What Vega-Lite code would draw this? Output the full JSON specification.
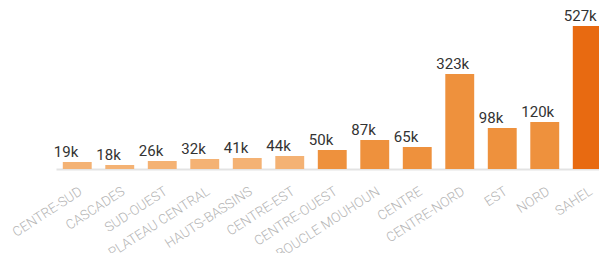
{
  "$schema": "https://vega.github.io/schema/vega-lite/v6.json",
  "autosize": "none",
  "width": 543,
  "height": 143,
  "padding": {"left": 56, "top": 26, "right": 0, "bottom": 84},
  "background": "white",
  "config": {"view": {"stroke": null}},
  "data": {
    "values": [
      {"region": "CENTRE-SUD", "bar": 25.8, "label": "19k", "tier": "low"},
      {"region": "CASCADES", "bar": 14.7, "label": "18k", "tier": "low"},
      {"region": "SUD-OUEST", "bar": 29.5, "label": "26k", "tier": "low"},
      {"region": "PLATEAU CENTRAL", "bar": 36.9, "label": "32k", "tier": "low"},
      {"region": "HAUTS-BASSINS", "bar": 40.5, "label": "41k", "tier": "low"},
      {"region": "CENTRE-EST", "bar": 47.9, "label": "44k", "tier": "low"},
      {"region": "CENTRE-OUEST", "bar": 70, "label": "50k", "tier": "mid"},
      {"region": "BOUCLE MOUHOUN", "bar": 106.9, "label": "87k", "tier": "mid"},
      {"region": "CENTRE", "bar": 81, "label": "65k", "tier": "mid"},
      {"region": "CENTRE-NORD", "bar": 350, "label": "323k", "tier": "mid"},
      {"region": "EST", "bar": 151, "label": "98k", "tier": "mid"},
      {"region": "NORD", "bar": 173, "label": "120k", "tier": "mid"},
      {"region": "SAHEL", "bar": 527, "label": "527k", "tier": "high"}
    ]
  },
  "encoding": {
    "x": {
      "field": "region",
      "type": "nominal",
      "sort": null,
      "scale": {"range": [0, 552.5], "paddingInner": 0.32, "paddingOuter": 0.16},
      "axis": {
        "title": null,
        "labelAngle": -33,
        "labelAlign": "right",
        "labelBaseline": "top",
        "labelColor": "#b4b4b4",
        "labelFont": "Roboto",
        "labelFontWeight": 300,
        "labelFontSize": 13.5,
        "labelPadding": 15,
        "ticks": false,
        "domainColor": "#e3e3e3",
        "domainWidth": 2,
        "grid": false
      }
    }
  },
  "layer": [
    {
      "mark": {"type": "bar"},
      "encoding": {
        "y": {"field": "bar", "type": "quantitative", "scale": {"domain": [0, 527], "nice": false}, "axis": null},
        "color": {
          "field": "tier",
          "type": "nominal",
          "scale": {"domain": ["low", "mid", "high"], "range": ["#F4B274", "#EE913D", "#E86A11"]},
          "legend": null
        }
      }
    },
    {
      "mark": {"type": "text", "align": "left", "baseline": "bottom", "dy": -2, "dx": -9, "font": "Roboto", "fontSize": 15, "fontWeight": 400, "color": "#333333"},
      "encoding": {
        "x": {"field": "region", "type": "nominal", "sort": null, "bandPosition": 0},
        "y": {"field": "bar", "type": "quantitative"},
        "text": {"field": "label"}
      }
    }
  ]
}
